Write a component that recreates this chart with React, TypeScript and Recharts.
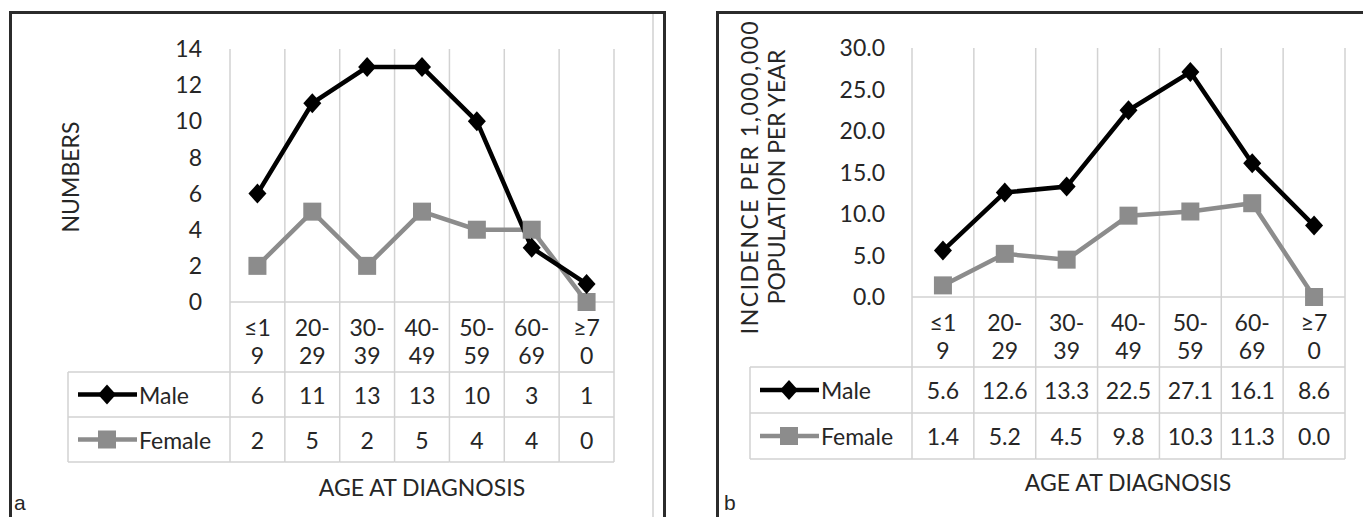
import { LineChart, Line, XAxis, YAxis, CartesianGrid } from 'recharts';

const ageGroups = ['≤19', '20-29', '30-39', '40-49', '50-59', '60-69', '≥70'];
const seriesNames = ['Male', 'Female'];
const maleCounts = [6, 11, 13, 13, 10, 3, 1];
const femaleCounts = [2, 5, 2, 5, 4, 4, 0];
const maleIncidence = [5.6, 12.6, 13.3, 22.5, 27.1, 16.1, 8.6];
const femaleIncidence = [1.4, 5.2, 4.5, 9.8, 10.3, 11.3, 0.0];
const countTicks = [0, 2, 4, 6, 8, 10, 12, 14];
const incidenceTicks = [0, 5, 10, 15, 20, 25, 30];

const FONT = 'Lato, "Open Sans", sans-serif';
const FS = 23;
const TEXT = '#262626';
const GRID = '#d2d2d2';
const MALE = '#000';
const FEMALE = '#8c8c8c';

// excel wraps the narrow category cells onto two lines
function wrapLabel(s: string) {
  const i = s.indexOf('-');
  return i >= 0 ? [s.slice(0, i + 1), s.slice(i + 1)] : [s.slice(0, 2), s.slice(2)];
}

function Diamond(props: any) {
  const { cx, cy, index } = props;
  if (cx == null || cy == null) return <g key={index} />;
  return <path key={index} d={`M${cx},${cy - 10} L${cx + 9},${cy} L${cx},${cy + 10} L${cx - 9},${cy} Z`} fill={MALE} />;
}

function Square(props: any) {
  const { cx, cy, index } = props;
  if (cx == null || cy == null) return <g key={index} />;
  return <rect key={index} x={cx - 9} y={cy - 9} width={18} height={18} fill={FEMALE} />;
}

interface TableSpec {
  band: number;
  header: number;
  row: number;
  legendLeft: number;
  male: number[];
  female: number[];
  fmt: (v: number) => string;
}

function makeTableTick(spec: TableSpec) {
  return (props: any) => {
    const { x, y, payload } = props;
    const idx = payload.index ?? props.index;
    const { band, header, row, legendLeft, male, female, fmt } = spec;
    const left = x - band / 2;
    const right = x + band / 2;
    const y1 = y + header;
    const y2 = y1 + row;
    const y3 = y2 + row;
    const [l1, l2] = wrapLabel(payload.value);
    const txt = { fontFamily: FONT, fontSize: FS, fill: TEXT, textAnchor: 'middle' as const, dominantBaseline: 'central' as const };
    return (
      <g>
        <line x1={left} x2={left} y1={y} y2={y3} stroke={GRID} strokeWidth={1.5} />
        {idx === male.length - 1 && <line x1={right} x2={right} y1={y} y2={y3} stroke={GRID} strokeWidth={1.5} />}
        {[y1, y2, y3].map((yy) => (
          <line key={yy} x1={left} x2={right} y1={yy} y2={yy} stroke={GRID} strokeWidth={1.5} />
        ))}
        <text x={x} y={y + 25} {...txt}>{l1}</text>
        <text x={x} y={y + 53} {...txt}>{l2}</text>
        <text x={x} y={y1 + row / 2} {...txt}>{fmt(male[idx])}</text>
        <text x={x} y={y2 + row / 2} {...txt}>{fmt(female[idx])}</text>
        {idx === 0 && (
          <g>
            {[y1, y2, y3].map((yy) => (
              <line key={yy} x1={legendLeft} x2={left} y1={yy} y2={yy} stroke={GRID} strokeWidth={1.5} />
            ))}
            <line x1={legendLeft} x2={legendLeft} y1={y1} y2={y3} stroke={GRID} strokeWidth={1.5} />
            <line x1={legendLeft + 10} x2={legendLeft + 69} y1={y1 + row / 2} y2={y1 + row / 2} stroke={MALE} strokeWidth={4.5} />
            <Diamond cx={legendLeft + 39} cy={y1 + row / 2} />
            <text x={legendLeft + 71} y={y1 + row / 2} {...txt} textAnchor="start">{seriesNames[0]}</text>
            <line x1={legendLeft + 10} x2={legendLeft + 69} y1={y2 + row / 2} y2={y2 + row / 2} stroke={FEMALE} strokeWidth={4.5} />
            <Square cx={legendLeft + 39} cy={y2 + row / 2} />
            <text x={legendLeft + 71} y={y2 + row / 2} {...txt} textAnchor="start">{seriesNames[1]}</text>
          </g>
        )}
      </g>
    );
  };
}

const countData = ageGroups.map((g, i) => ({ group: g, male: maleCounts[i], female: femaleCounts[i] }));
const incidenceData = ageGroups.map((g, i) => ({ group: g, male: maleIncidence[i], female: femaleIncidence[i] }));

function TableChart(props: {
  data: any[];
  width: number;
  margin: { top: number; left: number; right: number };
  axisHeight: number;
  plotWidth: number;
  header: number;
  row: number;
  legendLeft: number;
  ticks: number[];
  yFmt: (v: number) => string;
  cellFmt: (v: number) => string;
  male: number[];
  female: number[];
  tickMargin: number;
}) {
  const band = props.plotWidth / props.data.length;
  const Tick = makeTableTick({
    band,
    header: props.header,
    row: props.row,
    legendLeft: props.legendLeft,
    male: props.male,
    female: props.female,
    fmt: props.cellFmt,
  });
  const n = props.data.length;
  return (
    <LineChart
      width={props.width}
      height={517}
      data={props.data}
      margin={{ top: props.margin.top, left: props.margin.left, right: props.margin.right, bottom: 0 }}
    >
      <CartesianGrid
        stroke={GRID}
        strokeWidth={1.5}
        verticalCoordinatesGenerator={({ offset }: any) =>
          Array.from({ length: n + 1 }, (_, i) => offset.left + (i * offset.width) / n)
        }
        horizontalCoordinatesGenerator={({ offset }: any) => [offset.top + offset.height]}
      />
      <XAxis
        dataKey="group"
        interval={0}
        height={props.axisHeight}
        axisLine={false}
        tickLine={false}
        tickSize={0}
        tickMargin={0}
        padding={{ left: band / 2, right: band / 2 }}
        tick={Tick}
      />
      <YAxis
        width={60}
        domain={[props.ticks[0], props.ticks[props.ticks.length - 1]]}
        ticks={props.ticks}
        axisLine={false}
        tickLine={false}
        tickSize={0}
        tickMargin={props.tickMargin}
        tickFormatter={props.yFmt}
        tick={{ fontFamily: FONT, fontSize: FS, fill: TEXT }}
      />
      <Line dataKey="female" stroke={FEMALE} strokeWidth={4.5} dot={Square} activeDot={false} isAnimationActive={false} />
      <Line dataKey="male" stroke={MALE} strokeWidth={4.5} dot={Diamond} activeDot={false} isAnimationActive={false} />
    </LineChart>
  );
}

const abs = (s: React.CSSProperties): React.CSSProperties => ({ position: 'absolute', ...s });
const rot = (x: number, y: number): React.CSSProperties =>
  abs({ left: x, top: y, transform: 'translate(-50%,-50%) rotate(-90deg)', whiteSpace: 'nowrap', textAlign: 'center' });

export default function App() {
  return (
    <div style={abs({ left: 0, top: 0, width: 1363, height: 517, background: '#fff', overflow: 'hidden', fontFamily: FONT, color: TEXT })}>
      {/* panel a */}
      <div style={abs({ left: 9, top: 11, width: 657, height: 530, border: '3px solid #2b2b2b', boxSizing: 'border-box' })} />
      <div style={abs({ left: 652, top: 14, width: 2, height: 503, background: '#dcdcdc' })} />
      <div style={abs({ left: 0, top: 0 })}>
        <TableChart
          data={countData}
          width={680}
          margin={{ top: 49, left: 170, right: 66 }}
          axisHeight={215}
          plotWidth={384}
          header={70}
          row={45}
          legendLeft={68}
          ticks={countTicks}
          yFmt={(v) => String(v)}
          cellFmt={(v) => String(v)}
          male={maleCounts}
          female={femaleCounts}
          tickMargin={28}
        />
      </div>
      <div style={{ ...rot(70, 177), fontSize: FS }}>NUMBERS</div>
      <div style={abs({ left: 422, top: 487, transform: 'translate(-50%,-50%)', fontSize: FS, whiteSpace: 'nowrap' })}>AGE AT DIAGNOSIS</div>
      <div style={abs({ left: 14, top: 491, fontSize: 21, fontFamily: '"Liberation Sans", Arial, sans-serif' })}>a</div>

      {/* panel b */}
      <div style={abs({ left: 716, top: 11, width: 700, height: 530, border: '3px solid #2b2b2b', boxSizing: 'border-box' })} />
      <div style={abs({ left: 690, top: 0 })}>
        <TableChart
          data={incidenceData}
          width={673}
          margin={{ top: 48, left: 162, right: 18 }}
          axisHeight={220}
          plotWidth={433}
          header={70}
          row={46}
          legendLeft={60}
          ticks={incidenceTicks}
          yFmt={(v) => v.toFixed(1)}
          cellFmt={(v) => v.toFixed(1)}
          male={maleIncidence}
          female={femaleIncidence}
          tickMargin={27}
        />
      </div>
      <div style={{ ...rot(763, 177), fontSize: FS, lineHeight: '27px' }}>
        <span style={{ letterSpacing: 1.5 }}>INCIDENCE PER 1,000,000</span>
        <br />
        POPULATION PER YEAR
      </div>
      <div style={abs({ left: 1128, top: 482, transform: 'translate(-50%,-50%)', fontSize: FS, whiteSpace: 'nowrap' })}>AGE AT DIAGNOSIS</div>
      <div style={abs({ left: 724, top: 491, fontSize: 21, fontFamily: '"Liberation Sans", Arial, sans-serif' })}>b</div>
    </div>
  );
}
